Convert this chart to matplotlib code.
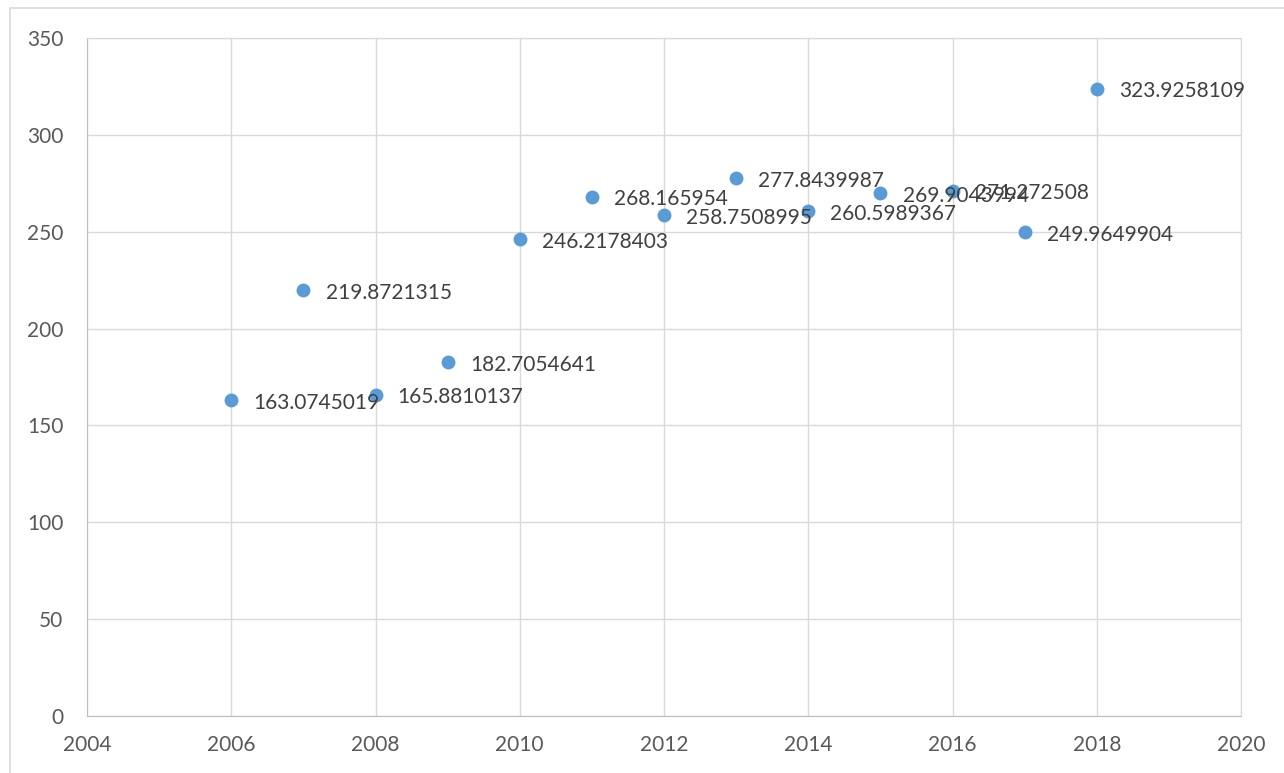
import matplotlib.pyplot as plt
from matplotlib.patches import Rectangle

years = [2006, 2007, 2008, 2009, 2010, 2011, 2012, 2013, 2014, 2015, 2016, 2017, 2018]
values = [163.0745019, 219.8721315, 165.8810137, 182.7054641, 246.2178403, 268.165954,
          258.7508995, 277.8439987, 260.5989367, 269.9043994, 271.272508, 249.9649904,
          323.9258109]
labels = ['163.0745019', '219.8721315', '165.8810137', '182.7054641', '246.2178403',
          '268.165954', '258.7508995', '277.8439987', '260.5989367', '269.9043994',
          '271.272508', '249.9649904', '323.9258109']

plt.rcParams['font.family'] = ['Lato', 'DejaVu Sans']

fig = plt.figure(figsize=(12.84, 7.73), dpi=100)
fig.patch.set_facecolor('white')

# Outer chart border
fig.add_artist(Rectangle((10 / 1284, -0.01), 1.02, 1 - 8 / 773 + 0.01,
                         transform=fig.transFigure, fill=False,
                         edgecolor='#D9D9D9', linewidth=1.2))

ax = fig.add_axes([87 / 1284, 1 - 716 / 773, (1241 - 87) / 1284, (716 - 38) / 773])

ax.scatter(years, values, s=100, color='#5B9BD5', zorder=3, linewidths=0)
for x, y, t in zip(years, values, labels):
    ax.annotate(t, (x, y), xytext=(16, -2), textcoords='offset points',
                ha='left', va='center', fontsize=15, color='#404040', zorder=4)

ax.set_xlim(2004, 2020)
ax.set_ylim(0, 350)
ax.set_xticks(range(2004, 2021, 2))
ax.set_yticks(range(0, 351, 50))
ax.grid(True, color='#D9D9D9', linewidth=1)
ax.set_axisbelow(True)
for s in ax.spines.values():
    s.set_color('#D9D9D9')
ax.spines['left'].set_color('#BFBFBF')
ax.spines['bottom'].set_color('#BFBFBF')
ax.tick_params(length=0, labelsize=15, labelcolor='#595959')
ax.tick_params(axis='y', pad=17)
ax.tick_params(axis='x', pad=14)

plt.savefig('out.png', dpi=100, facecolor='white')
